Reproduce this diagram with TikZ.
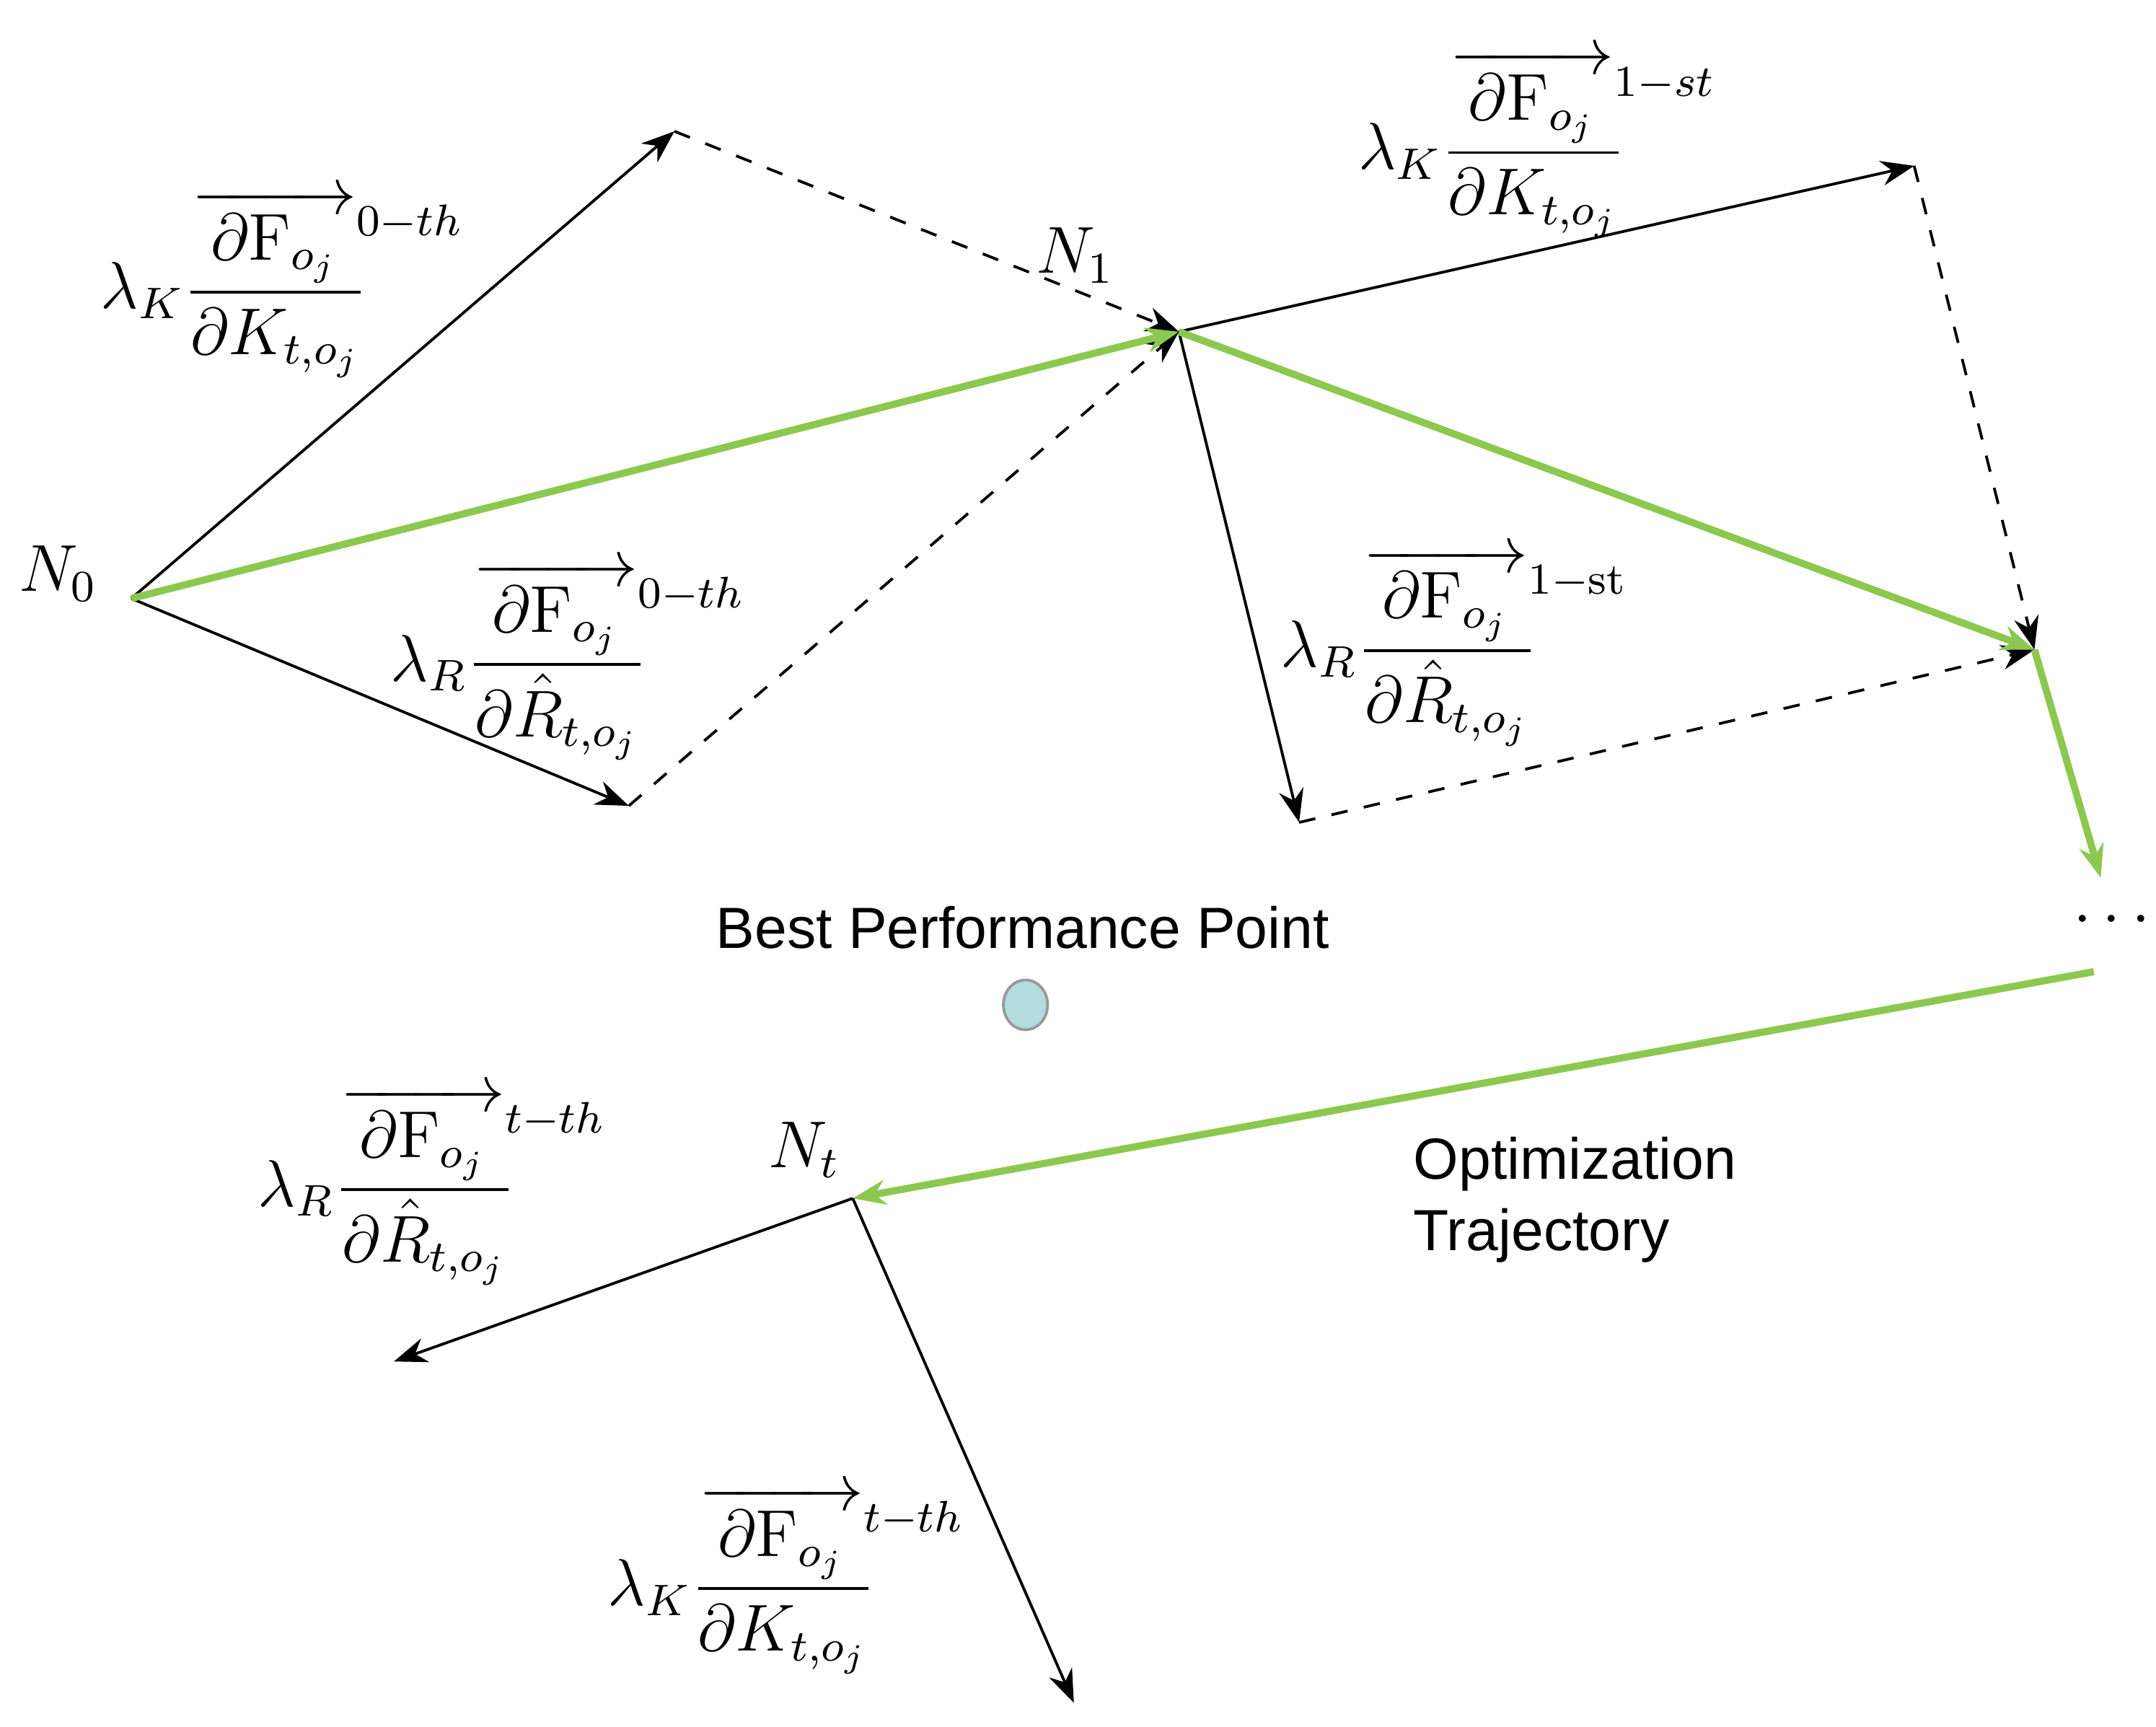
\documentclass[tikz,border=0pt]{standalone}
\usepackage{fontspec}
\usepackage{amsmath}
\newfontfamily\sansf{Liberation Sans}
\usetikzlibrary{arrows.meta}
\newcommand{\supl}[1]{^{\rlap{$\scriptstyle #1$}}}
\begin{document}
\begin{tikzpicture}[x=0.25pt,y=-0.25pt,
  vec/.style={-{Stealth[length=6pt,width=4.5pt]},line width=0.5pt},
  dvec/.style={vec,dashed},
  gvec/.style={-{Stealth[length=6pt,width=4.5pt]},line width=1.3pt,draw={rgb,255:red,140;green,200;blue,80}},
  lab/.style={font=\fontsize{12}{14}\selectfont,inner sep=0pt,anchor=west},
  txt/.style={font=\sansf\fontsize{10.5}{13}\selectfont,inner sep=0pt}]
\useasboundingbox (0,0) rectangle (1560,1249);
\coordinate (N0) at (95,433);
\coordinate (A) at (488,95);
\coordinate (B) at (455,583);
\coordinate (N1) at (853,240);
\coordinate (C) at (1385,120);
\coordinate (E) at (940,595);
\coordinate (D) at (1472,470);
\coordinate (F) at (1520,635);
\coordinate (G) at (1515,703);
\coordinate (Nt) at (617,867);
\coordinate (H) at (285,985);
\coordinate (I) at (777,1232);
\draw[vec] (N0) -- (A);
\draw[vec] (N0) -- (B);
\draw[dvec] (A) -- (N1);
\draw[dvec] (B) -- (N1);
\draw[gvec] (N0) -- (N1);
\draw[vec] (N1) -- (C);
\draw[vec] (N1) -- (E);
\draw[dvec] (C) -- (D);
\draw[dvec] (E) -- (D);
\draw[gvec] (N1) -- (D);
\draw[gvec] (D) -- (F);
\draw[gvec] (G) -- (Nt);
\draw[vec] (Nt) -- (H);
\draw[vec] (Nt) -- (I);
\node[lab,anchor=center] (n0) at (42,415) {$N_0$};
\node[lab,anchor=center] (n1) at (778,185) {$N_1$};
\node[lab,anchor=center] (nt) at (582,832) {$N_t$};
\node[lab,anchor=center] (dots) at (1532,666) {$\cdots$};
\node[lab] (l1) at (72,205) {$\lambda_K\dfrac{\overrightarrow{\;\partial\mathrm{F}_{o_j}\;}\supl{0-th}}{\partial K_{t,o_j}}$};
\node[lab] (l2) at (282,478) {$\lambda_R\dfrac{\overrightarrow{\;\partial\mathrm{F}_{o_j}\;}\supl{0-th}}{\partial \hat{R}_{t,o_j}}$};
\node[lab] (l3) at (982,104) {$\lambda_K\dfrac{\overrightarrow{\;\partial\mathrm{F}_{o_j}\;}\supl{1-st}}{\partial K_{t,o_j}}$};
\node[lab] (l4) at (926,468) {$\lambda_R\dfrac{\overrightarrow{\;\partial\mathrm{F}_{o_j}\;}\supl{1-\mathrm{st}}}{\partial \hat{R}_{t,o_j}}$};
\node[lab] (l5) at (186,858) {$\lambda_R\dfrac{\overrightarrow{\;\partial\mathrm{F}_{o_j}\;}\supl{t-th}}{\partial \hat{R}_{t,o_j}}$};
\node[lab] (l6) at (439,1143) {$\lambda_K\dfrac{\overrightarrow{\;\partial\mathrm{F}_{o_j}\;}\supl{t-th}}{\partial K_{t,o_j}}$};
\node[txt] (bpp) at (740,671) {Best Performance Point};
\node[txt,align=left,anchor=west] (ot) at (1022,868) {Optimization\\Trajectory};
\draw[fill={rgb,255:red,178;green,220;blue,222},draw=gray!80,line width=0.5pt] (742,727) ellipse (16 and 18);
\end{tikzpicture}
\end{document}
